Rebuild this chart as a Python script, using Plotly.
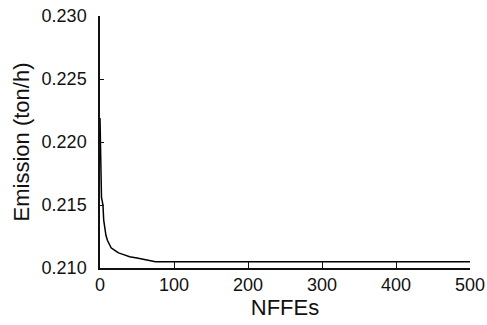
import plotly.graph_objects as go

nffes = [0, 1, 2, 3, 4, 5, 6, 7, 8, 10, 12, 15, 20, 25, 30, 35, 40, 50, 60, 70, 75, 500]
emission = [0.2219, 0.2162, 0.2156, 0.2153, 0.2150, 0.2138, 0.2133, 0.2129, 0.2126, 0.2122,
            0.2119, 0.2116, 0.2114, 0.2112, 0.2111, 0.2110, 0.2109, 0.2108, 0.2107, 0.21056,
            0.21050, 0.21050]
x_ticks = [0, 100, 200, 300, 400, 500]
y_ticks = [0.210, 0.215, 0.220, 0.225, 0.230]

fig = go.Figure(go.Scatter(x=nffes, y=emission, mode="lines",
                           line=dict(color="black", width=1.5)))

font = dict(family="Liberation Sans, Arial, sans-serif", size=18, color="#111")
fig.update_layout(
    width=487, height=325,
    margin=dict(l=100, r=17, t=16, b=57),
    paper_bgcolor="white", plot_bgcolor="white",
    showlegend=False, font=font,
)
fig.update_xaxes(range=[0, 500], tickvals=x_ticks, ticks="inside", ticklen=6,
                 tickcolor="#111", tickwidth=1.3, showline=True, linecolor="#111",
                 linewidth=1.5, showgrid=False, zeroline=False, automargin=False,
                 title=dict(text="NFFEs", standoff=2))
fig.update_yaxes(range=[0.210, 0.230], tickvals=y_ticks, tickformat=".3f",
                 ticks="inside", ticklen=4, tickcolor="#111", tickwidth=1.3,
                 showline=True, linecolor="#111", linewidth=1.5, showgrid=False,
                 zeroline=False, automargin=False, ticklabelstandoff=8,
                 title=dict(text="Emission (ton/h)", standoff=6))
fig.write_html("out.html", config={"displayModeBar": False},
               post_script="document.body.style.margin='0px';document.body.style.overflow='hidden';")
